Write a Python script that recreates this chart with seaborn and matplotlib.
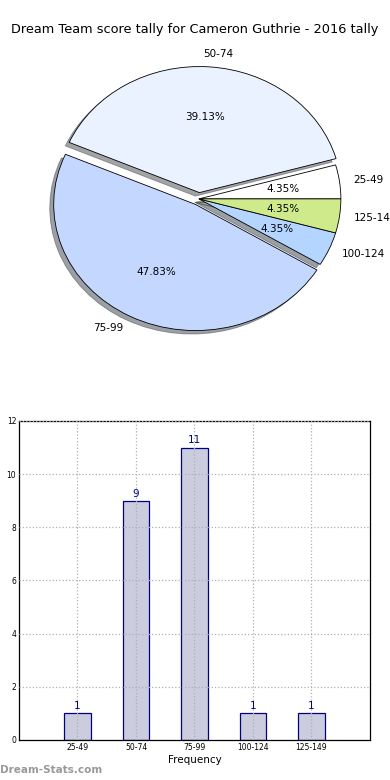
import pandas as pd
import seaborn as sns
import matplotlib
matplotlib.use("Agg")
import matplotlib.pyplot as plt

categories = ["25-49", "50-74", "75-99", "100-124", "125-149"]
counts = [1, 9, 11, 1, 1]
pie_colors = ["#ffffff", "#eaf1ff", "#c4d8ff", "#b4d5ff", "#cfea8a"]
explode = [0.0, 0.05, 0.05, 0.0, 0.0]
yticks = [0, 2, 4, 6, 8, 10, 12]

if __name__ == "__main__":
    sns.set_style("white")
    plt.rcParams["font.family"] = ["DejaVu Sans"]
    plt.rcParams.update({"text.color": "black", "axes.labelcolor": "black",
                         "xtick.color": "black", "ytick.color": "black"})

    fig = plt.figure(figsize=(3.9, 7.8), dpi=100)
    fig.suptitle("Dream Team score tally for Cameron Guthrie - 2016 tally",
                 fontsize=9.3, y=0.970)

    # pie chart (old-style, stretched to the axes box)
    ax1 = fig.add_axes([0.055, 0.543, 0.910, 0.404])
    wedges, texts, autotexts = ax1.pie(
        counts, labels=categories, colors=pie_colors, explode=explode,
        autopct="%.2f%%", startangle=0, shadow=True,
        wedgeprops={"edgecolor": "black", "linewidth": 0.6},
        textprops={"fontsize": 7.5},
    )
    texts[1].set_x(texts[1].get_position()[0] - 0.05)
    ax1.set_aspect("auto")
    ax1.set_xlim(-1.25, 1.25)
    ax1.set_ylim(-1.25, 1.25)

    # bar chart
    df = pd.DataFrame({"Interval": categories, "Count": counts})
    ax2 = fig.add_axes([0.0487, 0.0513, 0.9, 0.409])
    sns.barplot(data=df, x="Interval", y="Count", ax=ax2, width=0.45,
                color="#ccccdf", edgecolor="navy", linewidth=0.9, saturation=1)
    for p, c in zip(ax2.patches, counts):
        ax2.text(p.get_x() + p.get_width() / 2, c + 0.08, str(c),
                 ha="center", va="bottom", color="navy", fontsize=7.5)
    ax2.set_xlim(-1, 5)
    ax2.set_ylim(0, 12)
    ax2.set_yticks(yticks)
    ax2.grid(True, linestyle=":", color="#b0b0b0", linewidth=0.9)
    ax2.set_axisbelow(False)
    ax2.tick_params(labelsize=5.5, direction="in", length=3, pad=2)
    ax2.set_xlabel("Frequency", fontsize=7.5, labelpad=2)
    ax2.set_ylabel("Score Interval", fontsize=7.5)
    for s in ax2.spines.values():
        s.set_color("black")
        s.set_linewidth(0.9)

    fig.text(0.0, 0.0125, "Dream-Stats.com", color="#999999", fontsize=7.5,
             fontweight="bold", ha="left", va="center")

    plt.savefig("out.png", dpi=100)
